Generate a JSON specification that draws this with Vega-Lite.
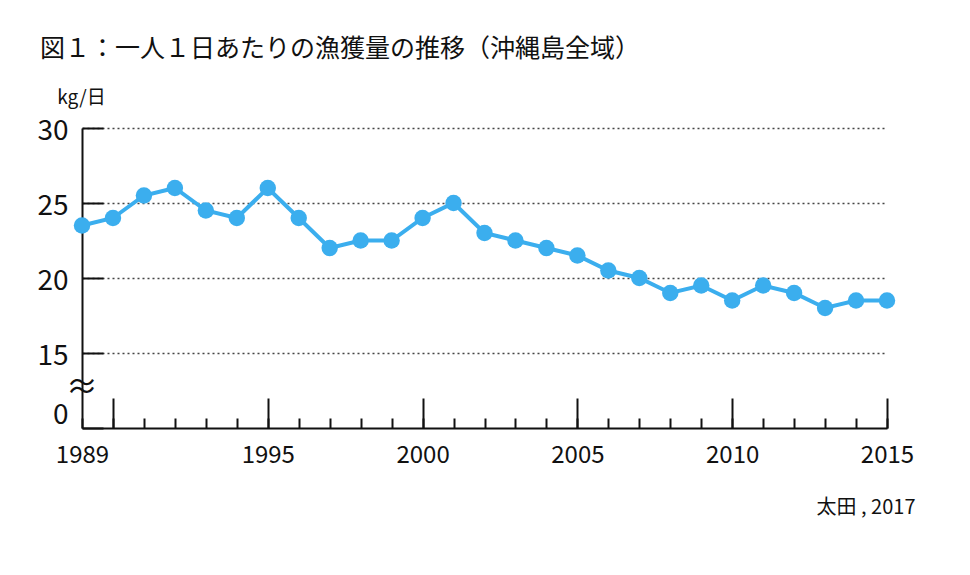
{
  "$schema": "https://vega.github.io/schema/vega-lite/v6.json",
  "width": 805,
  "height": 300,
  "autosize": {"type": "none"},
  "padding": {"left": 82, "top": 128, "right": 83, "bottom": 147},
  "background": "white",
  "config": {
    "font": "Noto Sans CJK JP",
    "view": {"stroke": null},
    "axis": {"labelFont": "Noto Sans CJK JP", "titleFont": "Noto Sans CJK JP", "labelColor": "#111", "titleColor": "#111"}
  },
  "title": {
    "text": "図１：一人１日あたりの漁獲量の推移（沖縄島全域）",
    "anchor": "start",
    "frame": "group",
    "dx": -42,
    "offset": 26,
    "fontSize": 25,
    "fontWeight": "normal",
    "color": "#111",
    "font": "Noto Sans CJK JP"
  },
  "datasets": {
    "catch": [
      {"year": 1989, "kg": 23.5},
      {"year": 1990, "kg": 24},
      {"year": 1991, "kg": 25.5},
      {"year": 1992, "kg": 26},
      {"year": 1993, "kg": 24.5},
      {"year": 1994, "kg": 24},
      {"year": 1995, "kg": 26},
      {"year": 1996, "kg": 24},
      {"year": 1997, "kg": 22},
      {"year": 1998, "kg": 22.5},
      {"year": 1999, "kg": 22.5},
      {"year": 2000, "kg": 24},
      {"year": 2001, "kg": 25},
      {"year": 2002, "kg": 23},
      {"year": 2003, "kg": 22.5},
      {"year": 2004, "kg": 22},
      {"year": 2005, "kg": 21.5},
      {"year": 2006, "kg": 20.5},
      {"year": 2007, "kg": 20},
      {"year": 2008, "kg": 19},
      {"year": 2009, "kg": 19.5},
      {"year": 2010, "kg": 18.5},
      {"year": 2011, "kg": 19.5},
      {"year": 2012, "kg": 19},
      {"year": 2013, "kg": 18},
      {"year": 2014, "kg": 18.5},
      {"year": 2015, "kg": 18.5}
    ],
    "brk": [{"year": 1989, "kg": 12.7, "s": "≈"}]
  },
  "resolve": {"axis": {"x": "independent"}},
  "layer": [
    {
      "data": {"name": "catch"},
      "encoding": {
        "x": {
          "field": "year", "type": "quantitative",
          "scale": {"domain": [1989, 2015], "nice": false, "zero": false},
          "axis": {
            "orient": "bottom",
            "values": [1989,1990,1991,1992,1993,1994,1995,1996,1997,1998,1999,2000,2001,2002,2003,2004,2005,2006,2007,2008,2009,2010,2011,2012,2013,2014,2015],
            "labelExpr": "datum.value == 1989 || (datum.value % 5 == 0 && datum.value != 1990) ? datum.value + '' : ''",
            "labelFlush": false,
            "labelOverlap": false,
            "labelFontSize": 24,
            "labelPadding": 25,
            "labelBaseline": "top",
            "tickSize": -10,
            "tickWidth": 2,
            "tickColor": "#111",
            "domainColor": "#111",
            "domainWidth": 2,
            "grid": false,
            "title": "太田 , 2017",
            "titleX": 833,
            "titleY": 79,
            "titleAlign": "right",
            "titleAnchor": null,
            "titleBaseline": "middle",
            "titleFontSize": 20,
            "titleFontWeight": "normal"
          }
        },
        "y": {
          "field": "kg", "type": "quantitative",
          "scale": {"domain": [10, 30], "nice": false, "zero": false},
          "axis": {
            "values": [10, 15, 20, 25, 30],
            "labelExpr": "datum.value == 10 ? '0' : datum.label",
            "labelFontSize": 28,
            "labelPadding": 35,
            "labelOffset": {"condition": {"test": "datum.value == 10", "value": -13}, "value": 3},
            "tickSize": -21,
            "tickWidth": 2,
            "tickColor": "#111",
            "domainColor": "#111",
            "domainWidth": 2,
            "grid": true,
            "gridDash": [2, 3],
            "gridColor": "#444",
            "gridWidth": 1.5,
            "gridOpacity": {"condition": {"test": "datum.value == 10", "value": 0}, "value": 1},
            "title": "kg/日",
            "titleAngle": 0,
            "titleX": -1,
            "titleY": -31,
            "titleAlign": "center",
            "titleBaseline": "middle",
            "titleFontSize": 19,
            "titleFontWeight": "normal"
          }
        }
      },
      "layer": [
        {"mark": {"type": "line", "color": "#3BAEEE", "strokeWidth": 4}},
        {"mark": {"type": "point", "filled": true, "color": "#3BAEEE", "opacity": 1, "size": 270}}
      ]
    },
    {
      "data": {"name": "brk"},
      "mark": {"type": "text", "fontSize": 32, "color": "#111", "baseline": "middle", "align": "center"},
      "encoding": {
        "x": {
          "field": "year", "type": "quantitative",
          "axis": {
            "orient": "bottom",
            "values": [1990, 1995, 2000, 2005, 2010, 2015],
            "labels": false,
            "domain": false,
            "grid": false,
            "tickSize": -30,
            "tickWidth": 2,
            "tickColor": "#111",
            "title": null
          }
        },
        "y": {"field": "kg", "type": "quantitative"},
        "text": {"field": "s"}
      }
    }
  ]
}
